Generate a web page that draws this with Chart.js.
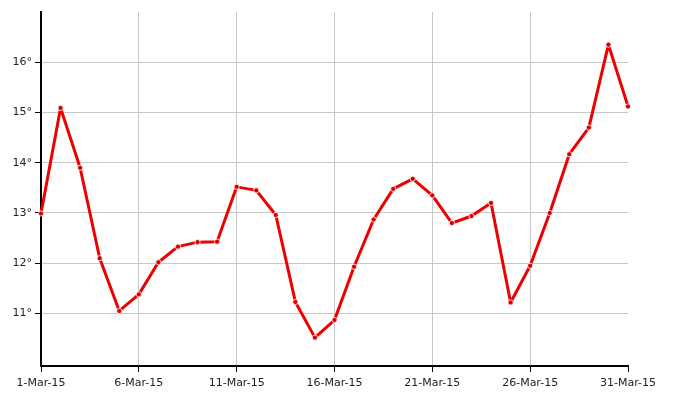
<!DOCTYPE html>
<html>
<head>
<meta charset="utf-8">
<script src="https://cdn.jsdelivr.net/npm/chart.js@4/dist/chart.umd.min.js"></script>
<style>
  html, body { margin: 0; padding: 0; background: #fff; }
  #wrap { width: 677px; height: 404px; }
</style>
</head>
<body>
<div id="wrap"><canvas id="chart"></canvas></div>
<script>
// March 2015, one reading per day
const days = [
  "1-Mar-15","2-Mar-15","3-Mar-15","4-Mar-15","5-Mar-15","6-Mar-15","7-Mar-15","8-Mar-15",
  "9-Mar-15","10-Mar-15","11-Mar-15","12-Mar-15","13-Mar-15","14-Mar-15","15-Mar-15","16-Mar-15",
  "17-Mar-15","18-Mar-15","19-Mar-15","20-Mar-15","21-Mar-15","22-Mar-15","23-Mar-15","24-Mar-15",
  "25-Mar-15","26-Mar-15","27-Mar-15","28-Mar-15","29-Mar-15","30-Mar-15","31-Mar-15"
];
const temps = [
  12.99, 15.09, 13.90, 12.10, 11.05, 11.38, 12.02, 12.33, 12.42, 12.43, 13.52,
  13.45, 12.96, 11.23, 10.52, 10.87, 11.93, 12.87, 13.48, 13.68, 13.35, 12.80,
  12.94, 13.20, 11.22, 11.95, 13.00, 14.17, 14.70, 16.35, 15.12
];
const yTicks = [11, 12, 13, 14, 15, 16];
const yMin = 9.955;
const yMax = 17.0;
const labelEvery = 5;

const red = "#ee0000";
const font = { family: "'DejaVu Sans', Verdana, sans-serif", size: 11 };

function isLabelDay(i){ return i % labelEvery === 0; }

new Chart(document.getElementById("chart"), {
  type: "line",
  data: {
    labels: days,
    datasets: [{
      data: temps,
      borderColor: red,
      borderWidth: 3,
      borderJoinStyle: "round",
      backgroundColor: "#d80000",
      pointRadius: 2.6,
      pointBorderColor: "#ffffff",
      pointBorderWidth: 0.8,
      tension: 0,
      fill: false
    }]
  },
  options: {
    responsive: true,
    maintainAspectRatio: false,
    animation: false,
    layout: { padding: { top: 12, right: 49, bottom: 0, left: 0 } },
    plugins: { legend: { display: false }, tooltip: { enabled: false } },
    scales: {
      x: {
        offset: false,
        border: { color: "#000", width: 2 },
        grid: {
          color: (c) => (isLabelDay(c.index) && c.index !== 0 && c.index !== days.length - 1) ? "#c8c8c8" : "rgba(0,0,0,0)",
          tickColor: (c) => isLabelDay(c.index) ? "#000" : "rgba(0,0,0,0)",
          tickLength: 6,
          tickWidth: 1,
          lineWidth: 1
        },
        ticks: {
          autoSkip: false,
          maxRotation: 0,
          color: "#222",
          font,
          padding: 5,
          callback: (v, i) => isLabelDay(i) ? days[i] : ""
        },
        afterFit: (s) => { s.height = 38; }
      },
      y: {
        min: yMin,
        max: yMax,
        border: { color: "#000", width: 2 },
        grid: { color: "#c8c8c8", tickColor: "#000", tickLength: 6, lineWidth: 1 },
        ticks: {
          color: "#222",
          font,
          padding: 3,
          stepSize: 1,
          callback: (v) => v + "°"
        },
        afterBuildTicks: (s) => { s.ticks = yTicks.map(v => ({ value: v })); },
        afterFit: (s) => { s.width = 41; }
      }
    }
  }
});
</script>
</body>
</html>
